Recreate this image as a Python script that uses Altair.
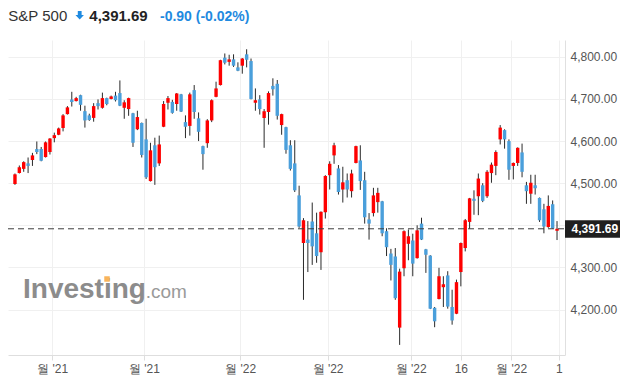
import json
import numpy as np
import pandas as pd
import altair as alt

# ---- data ----
open_ = [4498, 4524, 4534, 4547, 4555, 4581, 4581, 4562, 4574, 4607,
         4615, 4631, 4664, 4699, 4695, 4709, 4671, 4661, 4655, 4690,
         4679, 4702, 4700, 4708, 4714, 4679, 4676, 4666, 4628, 4643,
         4604, 4505, 4590, 4547, 4634, 4691, 4693, 4688, 4711, 4645,
         4636, 4721, 4654, 4588, 4595, 4649, 4705, 4733, 4798, 4788,
         4794, 4775, 4779, 4806, 4790, 4691, 4699, 4655, 4669, 4731,
         4736, 4638, 4633, 4590, 4547, 4471, 4358, 4366, 4409, 4381,
         4336, 4431, 4519, 4566, 4535, 4485, 4507, 4481, 4548, 4554,
         4507, 4414, 4429, 4455, 4457, 4386, 4333, 4326, 4157, 4298,
         4356, 4364, 4322, 4404, 4343, 4328, 4204, 4225, 4253, 4281,
         4206, 4190, 4289, 4346, 4408, 4463, 4469, 4495, 4469, 4524,
         4541, 4604, 4626, 4600, 4541, 4548, 4573, 4495, 4475, 4495,
         4465, 4438, 4396, 4450, 4387]
high = [4523, 4542, 4552, 4561, 4572, 4599, 4586, 4599, 4607, 4620,
        4632, 4664, 4683, 4717, 4705, 4710, 4684, 4665, 4690, 4699,
        4715, 4703, 4708, 4717, 4744, 4697, 4703, 4667, 4672, 4644,
        4653, 4596, 4608, 4613, 4695, 4707, 4698, 4714, 4712, 4661,
        4715, 4733, 4668, 4589, 4652, 4699, 4741, 4793, 4808, 4805,
        4806, 4787, 4797, 4818, 4796, 4725, 4709, 4676, 4718, 4749,
        4745, 4665, 4634, 4602, 4602, 4494, 4417, 4410, 4454, 4430,
        4433, 4519, 4552, 4596, 4543, 4539, 4523, 4532, 4589, 4590,
        4527, 4429, 4489, 4489, 4458, 4393, 4344, 4346, 4297, 4388,
        4390, 4380, 4400, 4418, 4344, 4329, 4206, 4299, 4279, 4291,
        4247, 4271, 4359, 4415, 4465, 4483, 4523, 4500, 4531, 4549,
        4578, 4638, 4628, 4604, 4549, 4585, 4594, 4503, 4520, 4520,
        4466, 4451, 4471, 4459, 4410]
low = [4496, 4523, 4527, 4524, 4541, 4569, 4552, 4561, 4568, 4597,
       4614, 4623, 4663, 4682, 4694, 4672, 4632, 4648, 4646, 4675,
       4677, 4685, 4699, 4694, 4683, 4653, 4660, 4586, 4626, 4561,
       4510, 4504, 4496, 4541, 4633, 4675, 4665, 4672, 4669, 4607,
       4613, 4653, 4600, 4532, 4584, 4645, 4704, 4732, 4782, 4779,
       4776, 4766, 4760, 4775, 4699, 4672, 4663, 4584, 4639, 4708,
       4651, 4615, 4570, 4530, 4479, 4394, 4223, 4289, 4306, 4311,
       4294, 4416, 4485, 4546, 4473, 4454, 4466, 4466, 4547, 4484,
       4404, 4366, 4421, 4430, 4374, 4327, 4269, 4223, 4116, 4279,
       4317, 4279, 4321, 4365, 4287, 4201, 4158, 4224, 4206, 4202,
       4164, 4189, 4255, 4338, 4392, 4425, 4424, 4455, 4465, 4501,
       4519, 4592, 4582, 4508, 4509, 4541, 4514, 4451, 4451, 4473,
       4408, 4381, 4394, 4392, 4365]
close = [4521, 4538, 4550, 4541, 4566, 4574, 4553, 4597, 4606, 4614,
         4630, 4661, 4680, 4693, 4702, 4686, 4649, 4650, 4683, 4683,
         4702, 4688, 4706, 4697, 4684, 4692, 4702, 4596, 4657, 4567,
         4514, 4578, 4538, 4592, 4688, 4702, 4667, 4713, 4670, 4634,
         4711, 4669, 4622, 4569, 4649, 4697, 4725, 4792, 4786, 4794,
         4779, 4767, 4796, 4793, 4700, 4697, 4676, 4671, 4714, 4723,
         4660, 4664, 4579, 4534, 4483, 4397, 4412, 4358, 4350, 4327,
         4432, 4517, 4546, 4590, 4479, 4502, 4485, 4523, 4588, 4505,
         4419, 4404, 4471, 4477, 4381, 4348, 4306, 4227, 4290, 4386,
         4374, 4309, 4388, 4366, 4330, 4202, 4172, 4279, 4260, 4207,
         4174, 4265, 4358, 4412, 4464, 4458, 4511, 4458, 4527, 4544,
         4574, 4632, 4604, 4532, 4548, 4584, 4527, 4481, 4501, 4488,
         4412, 4397, 4446, 4392.59, 4391.69]

x_ticks = [8.5, 29.5, 51.5, 71.5, 90.5, 102, 113.5, 124.4]
x_labels = ["월 '21", "월 '21", "월 '22", "월 '22", "월 '22", "16", "월 '22", "1"]
y_ticks = [4200, 4300, 4400, 4500, 4600, 4700, 4800]

title_name = "S&P 500"
last_price = 4391.69
change = -0.90
change_pct = -0.02
brand = "Investing"
brand_suffix = ".com"

UP = "#fe0000"
DOWN = "#4a9fdb"
BLUE_TXT = "#1f8ae0"

W, H = 557, 315

df = pd.DataFrame({"i": range(len(open_)), "open": open_, "high": high,
                   "low": low, "close": close})
df["dir"] = np.where(df["close"] > df["open"], "up", "down")

xscale = alt.Scale(domain=[-0.45, 124.68], nice=False, zero=False)
yscale = alt.Scale(domain=[4092, 4840], nice=False, zero=False)

label_expr = (json.dumps(x_labels, ensure_ascii=False)
              + "[indexof(" + json.dumps(x_ticks) + ", datum.value)]")

xaxis = alt.Axis(values=x_ticks, labelExpr=label_expr, grid=True,
                 gridColor="#f0f0f0", domainColor="#dedede", tickColor="#dedede",
                 tickSize=5, labelColor="#555555", labelFontSize=12,
                 labelFont="Liberation Sans", labelPadding=3, labelFlush=False,
                 labelOverlap=False, title=None)
# the 4,400 label sits under the price badge in the reference, so it is left blank
yaxis = alt.Axis(orient="right", values=y_ticks, format=",.2f", grid=True,
                 labelExpr=f"abs(datum.value - {last_price}) < 20 ? '' : datum.label",
                 gridColor="#f0f0f0", domainColor="#e0e0e0", ticks=False,
                 labelPadding=5, labelColor="#555555", labelFontSize=12,
                 labelFont="Liberation Sans", title=None)


def X(f):
    return alt.X(f, scale=xscale, axis=xaxis)


def Y(f):
    return alt.Y(f, scale=yscale, axis=yaxis)


base = alt.Chart(df)

wicks = base.mark_rule(color="#2a2a2a", strokeWidth=1).encode(
    x=X("i:Q"), y=Y("low:Q"), y2="high:Q")

bodies = base.mark_bar(size=3.4).encode(
    x=X("i:Q"), y=Y("open:Q"), y2="close:Q",
    color=alt.Color("dir:N", scale=alt.Scale(domain=["up", "down"], range=[UP, DOWN]),
                    legend=None))

price_df = pd.DataFrame({"p": [last_price], "lo": [last_price - 21],
                         "hi": [last_price + 20], "label": [f"{last_price:,.2f}"]})

dash = alt.Chart(price_df).mark_rule(strokeDash=[6, 4], color="#3c3c3c",
                                     strokeWidth=1).encode(
    y=Y("p:Q"), x=alt.value(0), x2=alt.value(W))

badge = alt.Chart(price_df).mark_rect(color="#1f1f1f").encode(
    y=Y("lo:Q"), y2="hi:Q", x=alt.value(W), x2=alt.value(W + 55))

badge_txt = alt.Chart(price_df).mark_text(
    align="left", baseline="middle", color="white", fontSize=12,
    fontWeight="bold", font="Liberation Sans").encode(
    x=alt.value(W + 6.5), y=Y("p:Q"), text="label:N")

# ---- header ----
HY = -19.5
hdr_df = pd.DataFrame({"name": [title_name], "price": [f"{last_price:,.2f}"],
                       "chg": [f"{change:.2f} ({change_pct:.2f}%)"]})
t_name = alt.Chart(hdr_df).mark_text(
    align="left", baseline="alphabetic", fontSize=15, color="#333333",
    font="Liberation Sans").encode(x=alt.value(0.3), y=alt.value(HY), text="name:N")
t_price = alt.Chart(hdr_df).mark_text(
    align="left", baseline="alphabetic", fontSize=15, fontWeight="bold",
    color="#222222", font="Liberation Sans").encode(
    x=alt.value(81.3), y=alt.value(HY), text="price:N")
t_chg = alt.Chart(hdr_df).mark_text(
    align="left", baseline="alphabetic", fontSize=14, fontWeight="bold",
    color=BLUE_TXT, font="Liberation Sans").encode(
    x=alt.value(152), y=alt.value(HY), text="chg:N")
arrow = alt.Chart(hdr_df).mark_point(
    shape="M-0.45,-1H0.45V-0.1H1L0,1L-1,-0.1H-0.45Z", filled=True, opacity=1,
    color=BLUE_TXT, size=72).encode(x=alt.value(71.7), y=alt.value(HY - 5.2))

# ---- watermark ----
wm_df = pd.DataFrame({"a": [brand], "b": [brand_suffix]})
wm1 = alt.Chart(wm_df).mark_text(
    align="left", baseline="alphabetic", fontSize=28, fontWeight="bold",
    color="#8c8c8c", font="Liberation Sans").encode(
    x=alt.value(15), y=alt.value(258.3), text="a:N")
wm2 = alt.Chart(wm_df).mark_text(
    align="left", baseline="alphabetic", fontSize=19, color="#9a9a9a",
    font="Liberation Sans").encode(
    x=alt.value(137.7), y=alt.value(258.3), text="b:N")
wm_dot = alt.Chart(wm_df).mark_point(
    shape="square", filled=True, opacity=1, color="#f9b45a", size=30).encode(
    x=alt.value(99), y=alt.value(239))

chart = alt.layer(
    wm1, wm2, wm_dot, wicks, bodies, dash, badge, badge_txt,
    t_name, arrow, t_price, t_chg
).properties(
    width=W, height=H,
    autosize=alt.AutoSizeParams(type="none"),
    padding={"left": 0, "top": 32, "right": 57, "bottom": 22},
    background="white",
).configure_view(strokeWidth=0)

chart.save("out.html", embed_options={"renderer": "svg", "actions": False})
